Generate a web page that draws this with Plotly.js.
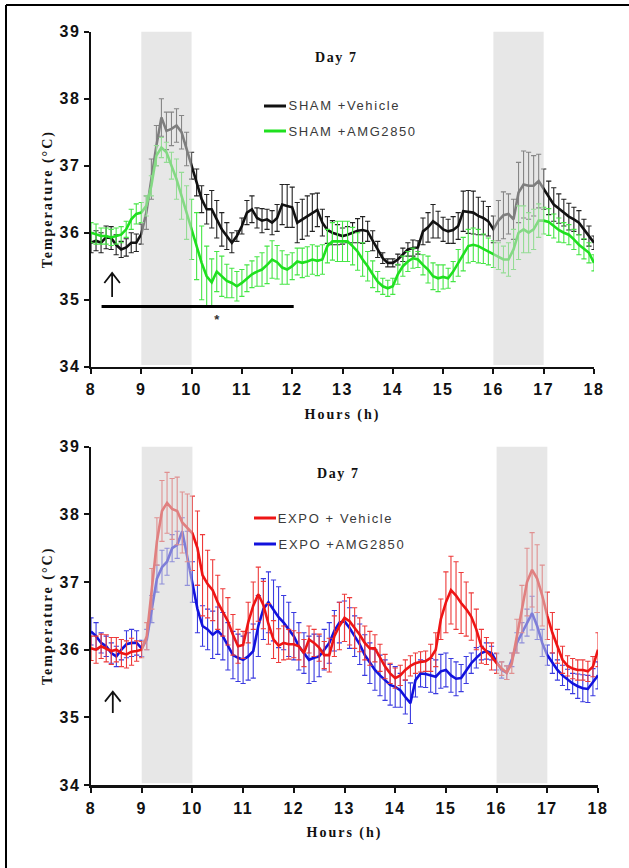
<!DOCTYPE html>
<html>
<head>
<meta charset="utf-8">
<script src="https://cdn.plot.ly/plotly-3.0.1.min.js"></script>
<style>
html,body{margin:0;padding:0;background:#fff;}
#chart{width:629px;height:868px;}
</style>
</head>
<body>
<div id="chart"></div>
<script>
// ---- data ----
const hours = [8.0,8.1,8.2,8.3,8.4,8.5,8.6,8.7,8.8,8.9,
9.0,9.1,9.2,9.3,9.4,9.5,9.6,9.7,9.8,9.9,
10.0,10.1,10.2,10.3,10.4,10.5,10.6,10.7,10.8,10.9,
11.0,11.1,11.2,11.3,11.4,11.5,11.6,11.7,11.8,11.9,
12.0,12.1,12.2,12.3,12.4,12.5,12.6,12.7,12.8,12.9,
13.0,13.1,13.2,13.3,13.4,13.5,13.6,13.7,13.8,13.9,
14.0,14.1,14.2,14.3,14.4,14.5,14.6,14.7,14.8,14.9,
15.0,15.1,15.2,15.3,15.4,15.5,15.6,15.7,15.8,15.9,
16.0,16.1,16.2,16.3,16.4,16.5,16.6,16.7,16.8,16.9,
17.0,17.1,17.2,17.3,17.4,17.5,17.6,17.7,17.8,17.9,18.0];

const shamVehicle = [35.85,35.88,35.85,35.93,35.92,35.82,35.75,35.78,35.85,35.85,
35.98,36.3,36.8,37.3,37.72,37.52,37.55,37.6,37.5,37.25,
37.0,36.75,36.5,36.35,36.35,36.2,36.05,35.95,35.85,35.95,
36.1,36.3,36.35,36.22,36.18,36.2,36.15,36.22,36.42,36.4,
36.38,36.15,36.2,36.25,36.3,36.34,36.15,36.04,36.0,35.97,
35.95,35.97,36.0,36.03,36.04,36.02,35.88,35.75,35.62,35.55,
35.55,35.6,35.67,35.75,35.77,35.78,36.02,36.08,36.17,36.12,
36.05,36.02,36.04,36.1,36.32,36.31,36.3,36.25,36.22,36.17,
36.05,36.18,36.26,36.28,36.2,36.6,36.72,36.7,36.7,36.77,
36.65,36.52,36.42,36.36,36.3,36.24,36.2,36.15,36.05,35.95,35.85];
const shamVehicleSEM = [0.15,0.15,0.15,0.17,0.17,0.15,0.12,0.13,0.15,0.13,
0.15,0.25,0.3,0.3,0.28,0.28,0.25,0.25,0.25,0.25,
0.2,0.2,0.2,0.22,0.28,0.28,0.25,0.2,0.15,0.08,
0.12,0.18,0.2,0.15,0.18,0.15,0.18,0.2,0.3,0.32,
0.3,0.3,0.3,0.3,0.28,0.25,0.2,0.2,0.18,0.15,
0.12,0.12,0.15,0.18,0.2,0.15,0.15,0.12,0.08,0.06,
0.06,0.08,0.1,0.1,0.12,0.1,0.2,0.22,0.25,0.2,
0.18,0.18,0.2,0.2,0.3,0.32,0.32,0.28,0.25,0.22,
0.2,0.3,0.35,0.3,0.3,0.45,0.5,0.5,0.45,0.4,
0.3,0.25,0.25,0.22,0.2,0.2,0.18,0.18,0.15,0.15,0.1];

const shamAMG = [36.0,35.98,35.95,35.95,35.93,35.95,35.97,36.05,36.2,36.28,
36.3,36.4,36.7,37.15,37.27,37.2,37.0,36.8,36.55,36.3,
36.05,35.8,35.55,35.35,35.26,35.42,35.35,35.28,35.25,35.2,
35.25,35.32,35.38,35.42,35.45,35.52,35.6,35.56,35.48,35.45,
35.5,35.57,35.55,35.57,35.6,35.58,35.6,35.8,35.87,35.87,
35.87,35.87,35.8,35.72,35.6,35.5,35.38,35.27,35.2,35.17,
35.2,35.38,35.5,35.57,35.62,35.6,35.52,35.45,35.35,35.32,
35.34,35.32,35.42,35.55,35.68,35.8,35.82,35.8,35.76,35.72,
35.68,35.65,35.6,35.6,35.75,36.0,36.05,36.0,36.05,36.18,
36.18,36.16,36.1,36.04,36.0,35.97,35.9,35.82,35.76,35.7,35.55];
const shamAMGSEM = [0.15,0.15,0.12,0.12,0.12,0.12,0.12,0.12,0.15,0.15,
0.15,0.15,0.15,0.15,0.15,0.15,0.2,0.3,0.35,0.4,
0.45,0.5,0.55,0.45,0.35,0.3,0.3,0.25,0.22,0.22,
0.2,0.2,0.2,0.22,0.25,0.28,0.28,0.25,0.25,0.22,
0.2,0.2,0.22,0.22,0.22,0.22,0.22,0.25,0.28,0.3,
0.3,0.3,0.28,0.28,0.25,0.22,0.2,0.15,0.12,0.12,
0.12,0.15,0.15,0.15,0.15,0.12,0.15,0.2,0.2,0.2,
0.18,0.15,0.15,0.2,0.25,0.25,0.25,0.25,0.22,0.2,
0.2,0.2,0.2,0.25,0.3,0.4,0.35,0.3,0.3,0.25,
0.2,0.2,0.18,0.18,0.15,0.15,0.15,0.15,0.15,0.15,0.12];

const expoVehicle = [36.02,36.0,36.05,36.02,35.98,36.0,35.95,35.93,35.97,35.98,
36.0,36.2,36.9,37.6,38.05,38.17,38.08,38.05,37.88,37.8,
37.72,37.5,37.1,36.97,36.88,36.7,36.55,36.42,36.22,36.05,
36.07,36.4,36.65,36.82,36.66,36.38,36.15,36.06,36.1,36.08,
36.08,36.05,35.95,36.15,36.1,36.03,35.92,35.92,36.2,36.35,
36.47,36.42,36.32,36.22,36.1,36.02,36.02,35.88,35.75,35.65,
35.58,35.62,35.7,35.76,35.8,35.82,35.83,35.88,36.0,36.45,
36.7,36.88,36.8,36.69,36.6,36.49,36.3,36.05,35.98,35.9,
35.8,35.72,35.66,35.8,36.2,36.6,37.0,37.18,37.05,36.8,
36.5,36.25,36.05,35.85,35.76,35.72,35.7,35.7,35.68,35.75,36.0];
const expoVehicleSEM = [0.18,0.2,0.18,0.2,0.2,0.18,0.2,0.2,0.2,0.15,
0.12,0.2,0.3,0.35,0.45,0.45,0.45,0.5,0.45,0.5,
0.55,0.55,0.6,0.5,0.45,0.4,0.35,0.35,0.3,0.25,
0.2,0.3,0.35,0.4,0.35,0.3,0.28,0.25,0.25,0.22,
0.2,0.2,0.2,0.2,0.2,0.2,0.2,0.25,0.3,0.35,
0.35,0.35,0.3,0.25,0.25,0.25,0.2,0.2,0.18,0.15,
0.15,0.15,0.15,0.15,0.15,0.15,0.15,0.2,0.25,0.3,
0.45,0.5,0.5,0.45,0.4,0.35,0.3,0.25,0.2,0.2,
0.15,0.1,0.1,0.15,0.25,0.35,0.5,0.55,0.5,0.45,
0.35,0.3,0.25,0.2,0.15,0.15,0.15,0.15,0.15,0.15,0.25];

const expoAMG = [36.27,36.2,36.1,36.05,35.95,35.9,36.0,36.08,36.1,36.1,
36.02,36.15,36.6,37.05,37.22,37.3,37.5,37.55,37.75,37.35,
37.0,36.6,36.35,36.3,36.22,36.28,36.2,36.05,35.92,35.88,
35.85,35.9,35.98,36.35,36.6,36.7,36.58,36.48,36.4,36.3,
36.2,36.05,35.95,35.85,35.88,35.9,36.0,36.1,36.28,36.4,
36.42,36.32,36.2,36.08,35.92,35.8,35.7,35.62,35.55,35.48,
35.45,35.4,35.3,35.21,35.55,35.65,35.64,35.62,35.6,35.68,
35.7,35.62,35.57,35.58,35.7,35.8,35.88,35.95,35.98,35.95,
35.82,35.7,35.66,35.85,36.1,36.25,36.4,36.54,36.35,36.1,
35.92,35.8,35.7,35.62,35.56,35.5,35.46,35.43,35.42,35.52,35.62];
const expoAMGSEM = [0.2,0.2,0.15,0.15,0.15,0.15,0.15,0.2,0.2,0.18,
0.12,0.15,0.2,0.2,0.25,0.2,0.2,0.2,0.2,0.4,
0.3,0.35,0.3,0.3,0.35,0.35,0.35,0.35,0.35,0.35,
0.35,0.35,0.4,0.45,0.45,0.45,0.45,0.45,0.4,0.4,
0.35,0.35,0.3,0.35,0.35,0.3,0.3,0.3,0.3,0.3,
0.3,0.3,0.3,0.3,0.3,0.3,0.3,0.3,0.3,0.3,
0.3,0.25,0.25,0.3,0.25,0.2,0.2,0.25,0.25,0.25,
0.25,0.25,0.25,0.2,0.2,0.15,0.15,0.1,0.12,0.1,
0.12,0.12,0.1,0.1,0.15,0.15,0.2,0.25,0.2,0.2,
0.15,0.15,0.15,0.15,0.15,0.15,0.18,0.2,0.2,0.2,0.2];

const seriesNames = ["SHAM +Vehicle", "SHAM +AMG2850", "EXPO + Vehicle", "EXPO +AMG2850"];
const panelTitle = "Day 7";
const xTitle = "Hours (h)";
const yTitle = "Temperature (°C)";
const xTicks = [8,9,10,11,12,13,14,15,16,17,18];
const yTicks = [34,35,36,37,38,39];
const darkPeriods = [[9,10],[16,17]];
const sigBar = {x0: 8.21, x1: 12.03, y: 34.9, label: "*", labelX: 10.53, labelY: 34.7};
// injection marker (arrow): tip / tail temperatures per panel
const injectionArrows = [
  {xa: "x", ya: "y", x: 8.42, tip: 35.40, tail: 35.04, dx: 0.155, dy: 0.15},
  {xa: "x2", ya: "y2", x: 8.43, tip: 35.38, tail: 35.065, dx: 0.155, dy: 0.148}
];

// ---- styling ----
const W = 629, H = 868;
const px = x => x / W;
const py = y => 1 - y / H;
const colors = ["#111111", "#1fe01f", "#ee1515", "#1212dd"];
const errColors = ["#222222", "#45e645", "#ee3a3a", "#3a3ae0"];

function trace(y, sem, i, xa, ya) {
  return {
    x: hours, y: y, type: "scatter", mode: "lines", name: seriesNames[i],
    xaxis: xa, yaxis: ya, showlegend: false,
    line: {color: colors[i], width: 2.6},
    error_y: {type: "data", array: sem, visible: true, color: errColors[i], thickness: 1.1, width: 2.6}
  };
}

const data = [
  trace(shamVehicle, shamVehicleSEM, 0, "x", "y"),
  trace(shamAMG, shamAMGSEM, 1, "x", "y"),
  trace(expoAMG, expoAMGSEM, 3, "x2", "y2"),
  trace(expoVehicle, expoVehicleSEM, 2, "x2", "y2")
];

const tickFont = {family: "Liberation Sans, Arial, sans-serif", size: 16, color: "#111", weight: "bold"};
const titleFont = {family: "Liberation Serif, Times New Roman, serif", size: 14, color: "#111", weight: "bold"};

function xAxis(domain, anchor) {
  return {domain: domain, anchor: anchor, range: [8, 18], tickmode: "array", tickvals: xTicks,
    ticks: "outside", ticklen: 5, tickwidth: 2, tickcolor: "#111", ticklabelstandoff: 2,
    showline: true, linewidth: 2.5, linecolor: "#111", showgrid: false, zeroline: false,
    tickfont: tickFont, title: {text: xTitle, font: titleFont, standoff: 12}, fixedrange: true};
}
function yAxis(domain, anchor) {
  return {domain: domain, anchor: anchor, range: [34, 39], tickmode: "array", tickvals: yTicks,
    ticks: "outside", ticklen: 5, tickwidth: 2, tickcolor: "#111",
    showline: true, linewidth: 2.5, linecolor: "#111", showgrid: false, zeroline: false,
    tickfont: tickFont, title: {text: yTitle, font: titleFont, standoff: 7}, fixedrange: true};
}

const shapes = [];
[["x","y"],["x2","y2"]].forEach(([xa, ya]) => {
  darkPeriods.forEach(([a, b]) => {
    shapes.push({type: "rect", xref: xa, yref: ya, x0: a, x1: b, y0: 34.025, y1: 39.05,
      fillcolor: "rgb(212,212,212)", opacity: 0.56, line: {width: 0}, layer: "above"});
  });
});
shapes.push({type: "line", xref: "x", yref: "y", x0: sigBar.x0, x1: sigBar.x1, y0: sigBar.y, y1: sigBar.y,
  line: {color: "#000", width: 3}});
injectionArrows.forEach(a => {
  shapes.push({type: "path", xref: a.xa, yref: a.ya,
    path: `M ${a.x},${a.tail} L ${a.x},${a.tip} M ${a.x - a.dx},${a.tip - a.dy} L ${a.x},${a.tip} L ${a.x + a.dx},${a.tip - a.dy}`,
    line: {color: "#111", width: 1.8}});
});
// frame
shapes.push({type: "line", xref: "paper", yref: "paper", x0: px(6), x1: px(6), y0: 0, y1: py(5), line: {color: "#000", width: 2}});
shapes.push({type: "line", xref: "paper", yref: "paper", x0: px(6), x1: 1, y0: py(5), y1: py(5), line: {color: "#000", width: 2}});
// legend samples
const legendRows = [
  {i: 0, y: 106, x0: 264, x1: 286, tx: 297},
  {i: 1, y: 131, x0: 264, x1: 286, tx: 297},
  {i: 2, y: 518, x0: 254, x1: 276, tx: 287},
  {i: 3, y: 544, x0: 254, x1: 276, tx: 287}
];
legendRows.forEach(r => {
  shapes.push({type: "line", xref: "paper", yref: "paper", x0: px(r.x0), x1: px(r.x1), y0: py(r.y), y1: py(r.y),
    line: {color: colors[r.i], width: 3}});
});

const annotations = [];
legendRows.forEach(r => {
  annotations.push({xref: "paper", yref: "paper", x: px(r.tx), y: py(r.y), xanchor: "left", yanchor: "middle",
    text: seriesNames[r.i], showarrow: false, font: {family: "Liberation Sans, Arial, sans-serif", size: 13, color: "#3a3a3a"}});
});
annotations.push({xref: "paper", yref: "paper", x: px(336), y: py(58), xanchor: "center", yanchor: "middle", text: panelTitle, showarrow: false, font: titleFont});
annotations.push({xref: "paper", yref: "paper", x: px(338), y: py(473), xanchor: "center", yanchor: "middle", text: panelTitle, showarrow: false, font: titleFont});
annotations.push({xref: "x", yref: "y", x: sigBar.labelX, y: sigBar.labelY, xanchor: "center", yanchor: "middle", text: sigBar.label, showarrow: false,
  font: {family: "Liberation Sans, Arial", size: 13, color: "#333", weight: "bold"}});

const layout = {
  width: W, height: H, margin: {l: 0, r: 0, t: 0, b: 0}, paper_bgcolor: "#fff", plot_bgcolor: "rgba(0,0,0,0)",
  showlegend: false,
  xaxis: xAxis([px(91), px(594)], "y"),
  yaxis: yAxis([py(366.7), py(31.7)], "x"),
  xaxis2: xAxis([px(91), px(598)], "y2"),
  yaxis2: yAxis([py(785), py(446.7)], "x2"),
  shapes: shapes, annotations: annotations
};

Plotly.newPlot("chart", data, layout, {staticPlot: true}).then(() => {
  document.querySelectorAll(".xtick text, .ytick text, .x2tick text, .y2tick text").forEach(t => t.style.letterSpacing = "1.5px");
  document.querySelectorAll(".annotation-text").forEach(t => t.style.letterSpacing = "1.6px");
  document.querySelectorAll(".xtitle, .ytitle, .x2title, .y2title").forEach(t => t.style.letterSpacing = "2px");
});
</script>
</body>
</html>
